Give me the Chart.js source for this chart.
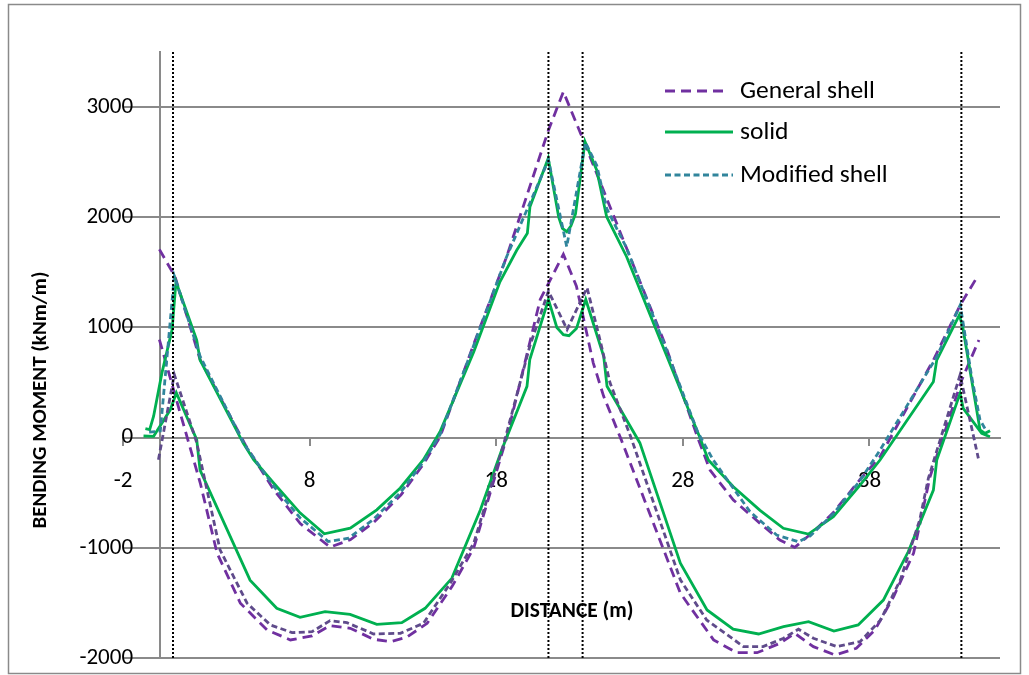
<!DOCTYPE html>
<html><head><meta charset="utf-8">
<script src="https://cdn.jsdelivr.net/npm/chart.js@4.4.0/dist/chart.umd.min.js"></script>
<style>html,body{margin:0;padding:0;background:#fff;}canvas{display:block}</style>
</head><body>
<canvas id="c" width="1029" height="675"></canvas>
<script>
// ---------- data ----------
const xTicks = [-2, 8, 18, 28, 38];
const yTicks = [-2000, -1000, 0, 1000, 2000, 3000];
const supportX = [0.68, 20.8, 22.63, 42.93];

const genUpX = [-0.05, 0.79, 2.13, 4.6, 6.07, 7.5, 9.1, 10.18, 11.43, 12.9, 14.1, 15.0, 16.8, 18.56, 20.8, 21.6, 22.67, 25.17, 27.0, 28.8, 29.46, 30.71, 32.14, 33.2, 34.0, 35.0, 36.07, 37.5, 38.57, 41.43, 42.87, 43.84];
const genUpY = [1709, 1460, 709, -79, -470, -780, -994, -927, -770, -520, -240, 10, 850, 1642, 2790, 3139, 2701, 1642, 870, 0, -295, -566, -778, -929, -996, -854, -680, -380, -173, 704, 1204, 1476];

const solidUpX = [-0.8, -0.57, -0.36, 0.09, 0.63, 0.84, 1.95, 2.13, 4.45, 5.0, 6.07, 7.5, 8.79, 10.18, 11.6, 12.86, 14.1, 14.99, 16.8, 18.2, 19.1, 19.67, 19.81, 20.79, 21.35, 21.55, 21.78, 22.0, 22.25, 22.76, 23.39, 23.92, 24.99, 27.0, 28.92, 29.37, 30.71, 32.14, 33.39, 34.73, 36.07, 37.5, 38.57, 41.43, 41.61, 42.82, 43.0, 43.93, 44.2, 44.47];
const solidUpY = [82, 73, 194, 590, 980, 1415, 886, 704, -52, -200, -412, -685, -873, -821, -655, -457, -200, 53, 780, 1415, 1701, 1854, 2096, 2535, 2000, 1900, 1869, 1920, 2030, 2686, 2427, 2005, 1642, 800, 0, -203, -446, -660, -823, -875, -718, -430, -203, 507, 704, 1113, 1007, 69, 39, 63];

const modUpX = [-0.6, 0.0, 0.75, 2.13, 4.5, 6.07, 7.5, 9.0, 10.1, 11.43, 12.86, 14.1, 15.0, 16.8, 18.56, 20.8, 21.78, 22.78, 23.39, 23.92, 24.99, 27.0, 28.8, 29.63, 31.6, 33.03, 34.19, 34.82, 36.07, 37.5, 38.57, 41.61, 42.87, 43.48, 43.93, 44.29];
const modUpY = [50, 60, 1466, 739, -60, -440, -730, -943, -912, -740, -500, -220, 30, 840, 1642, 2519, 1733, 2680, 2470, 2080, 1720, 850, 50, -203, -672, -884, -945, -893, -690, -390, -113, 734, 1204, 553, 160, 54];

const genLoX = [-0.05, 0.86, 2.14, 3.04, 4.29, 5.72, 6.97, 8.13, 9.1, 10.18, 11.43, 12.33, 13.2, 14.3, 15.63, 16.8, 18.58, 20.36, 21.6, 22.3, 23.2, 23.76, 24.7, 27.87, 29.65, 30.9, 31.98, 33.2, 34.0, 35.0, 36.17, 37.3, 38.3, 39.3, 40.37, 41.25, 42.95, 43.87];
const genLoY = [890, 345, -412, -1048, -1503, -1745, -1836, -1800, -1706, -1730, -1830, -1852, -1812, -1685, -1352, -1000, 12, 1254, 1664, 1375, 679, 375, -18, -1412, -1836, -1952, -1952, -1867, -1776, -1897, -1973, -1912, -1745, -1442, -1048, -355, 523, 886];

const solidLoX = [-0.9, -0.36, 0.54, 0.86, 1.95, 2.13, 4.81, 6.24, 7.49, 8.83, 10.17, 11.6, 12.94, 14.19, 15.62, 17.15, 18.3, 19.65, 19.8, 20.8, 21.25, 21.6, 21.9, 22.3, 22.8, 23.76, 23.94, 25.7, 27.87, 29.3, 30.7, 32.06, 33.4, 34.74, 36.1, 37.4, 38.75, 40.08, 41.43, 41.61, 42.86, 43.03, 44.02, 44.46];
const solidLoY = [15, 12, 255, 406, -18, -294, -1293, -1549, -1631, -1580, -1604, -1695, -1680, -1549, -1277, -657, -109, 466, 709, 1254, 1000, 935, 925, 990, 1254, 739, 466, -48, -1139, -1564, -1739, -1782, -1715, -1670, -1755, -1700, -1474, -1036, -476, -203, 402, 266, 39, 8];

const modLoX = [-0.1, 0.75, 1.95, 3.2, 4.65, 5.9, 7.06, 8.13, 9.1, 10.0, 11.43, 12.86, 14.1, 15.54, 16.8, 18.4, 19.8, 20.8, 21.8, 22.87, 23.6, 24.1, 25.2, 27.87, 29.28, 31.26, 32.3, 33.4, 34.2, 35.0, 36.26, 37.5, 38.6, 39.66, 40.7, 41.16, 42.86, 43.84];
const modLoY = [-200, 573, -45, -1018, -1503, -1700, -1770, -1761, -1661, -1679, -1782, -1776, -1685, -1321, -957, -60, 830, 1330, 982, 1361, 861, 497, 12, -1291, -1655, -1897, -1897, -1821, -1739, -1821, -1897, -1852, -1655, -1291, -745, -370, 568, -188];

const legendLabels = ['General shell', 'solid', 'Modified shell'];
const axisTitleX = 'DISTANCE (m)';
const axisTitleY = 'BENDING MOMENT (kNm/m)';

// ---------- styles / layout ----------
const FONT = 'Carlito, Lato, "Liberation Sans", sans-serif';
const C_GEN = '#7030A0', C_SOLID = '#00B050', C_MOD = '#31859C', C_MOD2 = '#5F4B8B';
const DASH_GEN = [10, 6], DASH_MOD = [6, 3.5];
const GRID = '#8a8a8a';
const Y_LABEL_ANCHOR = -1.46; // x-value where the y tick labels are right-aligned

function pts(xs, ys) { return xs.map((x, i) => ({ x: x, y: ys[i] })); }
function series(xs, ys, color, dash, order) {
  return { data: pts(xs, ys), borderColor: color, borderWidth: 2.8, borderDash: dash || [],
    showLine: true, pointRadius: 0, fill: false, tension: 0, order: order, borderCapStyle: 'butt', yAxisID: 'y' };
}

const datasets = [
  series(genUpX, genUpY, C_GEN, DASH_GEN, 6),
  series(genLoX, genLoY, C_GEN, DASH_GEN, 5),
  series(solidUpX, solidUpY, C_SOLID, null, 4),
  series(solidLoX, solidLoY, C_SOLID, null, 3),
  series(modUpX, modUpY, C_MOD, DASH_MOD, 2),
  series(modLoX, modLoY, C_MOD2, DASH_MOD, 1)
];
supportX.forEach(x => {
  datasets.push({ data: [{ x: x, y: -2000 }, { x: x, y: 3500 }], borderColor: '#000', borderWidth: 2,
    borderDash: [2, 2], showLine: true, pointRadius: 0, fill: false, order: 0, yAxisID: 'y' });
});

const overlay = {
  id: 'overlay',
  beforeDraw(chart) {
    const c = chart.ctx;
    c.save();
    c.fillStyle = '#fff'; c.fillRect(0, 0, chart.width, chart.height);
    c.strokeStyle = '#8a8a8a'; c.lineWidth = 1.5;
    c.strokeRect(8.5, 4.5, 1012, 669);
    c.restore();
  },
  afterDraw(chart) {
    const c = chart.ctx;
    c.save();
    const items = [
      { color: C_GEN, dash: DASH_GEN, y: 91, x2: 729 },
      { color: C_SOLID, dash: [], y: 132, x2: 733 },
      { color: C_MOD, dash: DASH_MOD, y: 175, x2: 733 }
    ];
    items.forEach((it, i) => {
      c.beginPath(); c.setLineDash(it.dash); c.strokeStyle = it.color; c.lineWidth = 2.8;
      c.moveTo(665, it.y); c.lineTo(it.x2, it.y); c.stroke();
      c.setLineDash([]);
      c.fillStyle = '#000'; c.font = '25.5px ' + FONT; c.textBaseline = 'middle'; c.textAlign = 'left';
      c.fillText(legendLabels[i], 740, it.y + 1);
    });
    c.fillStyle = '#000';
    c.font = 'bold 21.5px ' + FONT; c.textAlign = 'center'; c.textBaseline = 'middle';
    c.fillText(axisTitleX, 572, 612);
    c.translate(41, 400); c.rotate(-Math.PI / 2);
    c.font = 'bold 21px ' + FONT;
    c.fillText(axisTitleY, 0, 0);
    c.restore();
  }
};

const zeroPad = s => { s.paddingTop = 0; s.paddingBottom = 0; s.paddingLeft = 0; s.paddingRight = 0; };

new Chart(document.getElementById('c'), {
  type: 'scatter',
  data: { datasets: datasets },
  plugins: [overlay],
  options: {
    responsive: false, animation: false, devicePixelRatio: 1,
    layout: { padding: { left: 123, right: 29, top: 52, bottom: 17 } },
    plugins: { legend: { display: false }, tooltip: { enabled: false } },
    scales: {
      x: {
        type: 'linear', min: -2, max: 45, position: { y: 0 },
        afterBuildTicks: s => { s.ticks = xTicks.map(v => ({ value: v })); },
        afterFit: zeroPad,
        grid: { drawOnChartArea: false, drawTicks: true, tickLength: 7, color: GRID, lineWidth: 2 },
        border: { display: true, color: GRID, width: 2 },
        ticks: { font: { family: FONT, size: 23 }, color: '#000', padding: 23, maxRotation: 0, autoSkip: false,
          callback: v => String(v) }
      },
      y: {
        type: 'linear', min: -2000, max: 3500, position: { x: 0 },
        afterBuildTicks: s => { s.ticks = yTicks.map(v => ({ value: v })); },
        afterFit: zeroPad,
        grid: { color: GRID, lineWidth: 2, drawTicks: false },
        border: { display: true, color: GRID, width: 2 },
        ticks: { display: false }
      },
      yLab: {
        type: 'linear', min: -2000, max: 3500, position: { x: Y_LABEL_ANCHOR },
        afterBuildTicks: s => { s.ticks = yTicks.map(v => ({ value: v })); },
        afterFit: zeroPad,
        grid: { display: false, drawTicks: false },
        border: { display: false },
        ticks: { font: { family: FONT, size: 23 }, color: '#000', padding: 0, callback: v => String(v) }
      }
    }
  }
});
</script>
</body></html>
